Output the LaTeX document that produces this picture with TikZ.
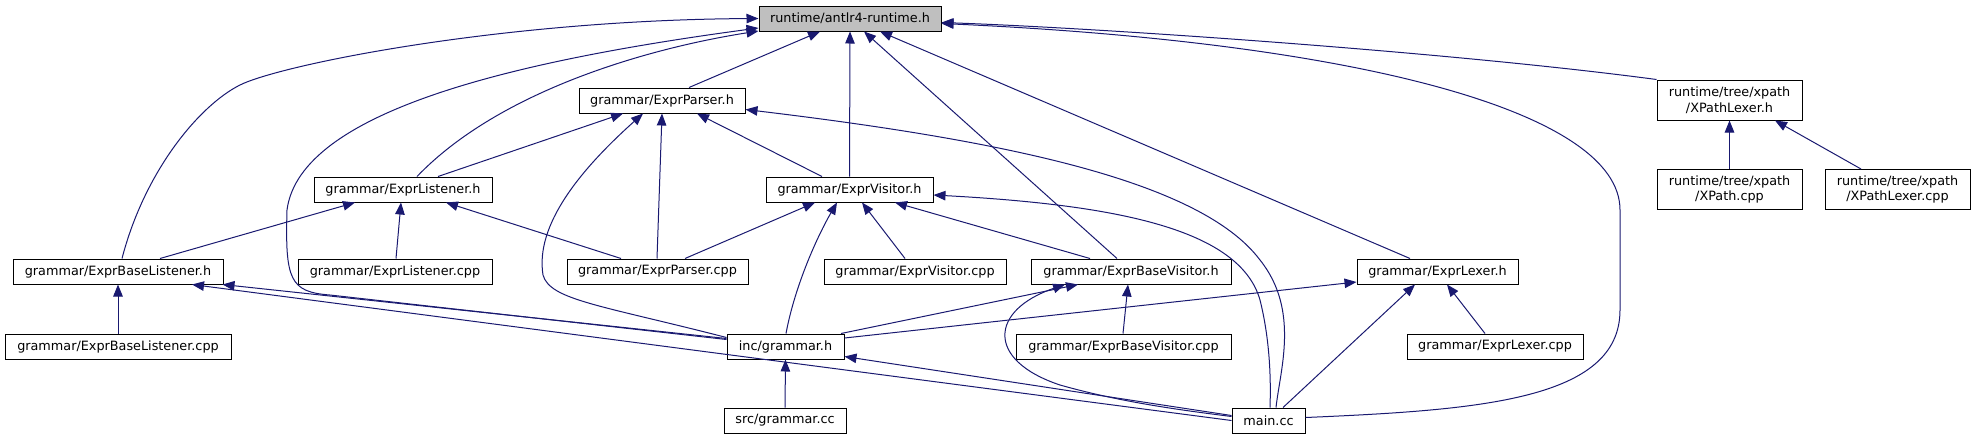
\documentclass[tikz,border=0pt]{standalone}
\usepackage{fontspec}
\setmainfont{DejaVu Sans}
\usepackage{tikz}
\usetikzlibrary{arrows.meta}
\definecolor{EdgeInk}{HTML}{191970}
\definecolor{RootFill}{HTML}{BFBFBF}
\tikzset{
  graph/.style={x=1pt,y=-1pt,font=\fontsize{12.8}{15.5}\selectfont},
  file/.style={draw=black,line width=1pt,fill=white,inner sep=0pt,minimum height=25pt,align=center},
  incl/.style={{Triangle[length=12pt,width=9.5pt]}-,line width=1pt,draw=EdgeInk},
}

\begin{document}
\begin{tikzpicture}[graph]
  \useasboundingbox (0,0) rectangle (1975,440);

  \node[file,fill=RootFill,minimum width=182pt] (Runtime) at (850,18.5) {runtime/antlr4-runtime.h};
  \node[file,minimum width=166pt] (ParserH) at (662,100.5) {grammar/ExprParser.h};
  \node[file,minimum width=145pt,minimum height=40pt] (XLexerH) at (1729.5,100) {runtime/tree/xpath\\/XPathLexer.h};
  \node[file,minimum width=178pt] (ListenerH) at (403,189.5) {grammar/ExprListener.h};
  \node[file,minimum width=167pt] (VisitorH) at (849.5,189.5) {grammar/ExprVisitor.h};
  \node[file,minimum width=145pt,minimum height=40pt] (XPathCPP) at (1729.5,189.5) {runtime/tree/xpath\\/XPath.cpp};
  \node[file,minimum width=145pt,minimum height=40pt] (XLexerCPP) at (1897.5,189.5) {runtime/tree/xpath\\/XPathLexer.cpp};
  \node[file,minimum width=210pt] (BaseListenerH) at (118,271.5) {grammar/ExprBaseListener.h};
  \node[file,minimum width=194pt] (ListenerCPP) at (395,271.5) {grammar/ExprListener.cpp};
  \node[file,minimum width=181pt] (ParserCPP) at (657.5,271.5) {grammar/ExprParser.cpp};
  \node[file,minimum width=182pt] (VisitorCPP) at (915,271.5) {grammar/ExprVisitor.cpp};
  \node[file,minimum width=200pt] (BaseVisitorH) at (1131,271.5) {grammar/ExprBaseVisitor.h};
  \node[file,minimum width=161pt] (LexerH) at (1437.5,271.5) {grammar/ExprLexer.h};
  \node[file,minimum width=226pt] (BaseListenerCPP) at (118,346.5) {grammar/ExprBaseListener.cpp};
  \node[file,minimum width=117pt] (GrammarH) at (785.5,346.5) {inc/grammar.h};
  \node[file,minimum width=215pt] (BaseVisitorCPP) at (1123.5,346.5) {grammar/ExprBaseVisitor.cpp};
  \node[file,minimum width=176pt] (LexerCPP) at (1495,346.5) {grammar/ExprLexer.cpp};
  \node[file,minimum width=122pt] (GrammarCC) at (785,420.5) {src/grammar.cc};
  \node[file,minimum width=73pt] (MainCC) at (1268.5,420.5) {main.cc};

  \draw[incl] (Runtime.south -| 820,0) -- (ParserH.north -| 689,0);
  \draw[incl] (Runtime.south) -- (VisitorH.north);
  \draw[incl] (Runtime.south -| 864,0) -- (BaseVisitorH.north -| 1117,0);
  \draw[incl] (Runtime.south -| 880,0) -- (LexerH.north -| 1410,0);
  \draw[incl] ([yshift=-4pt]Runtime.east) .. controls (1100,28) and (1450,52) .. (XLexerH.north west);
  \draw[incl] ([yshift=-5pt]Runtime.east) .. controls (1350,42) and (1620,110) .. (1620,210)
    -- (1620,310) .. controls (1620,400) and (1480,410) .. ([yshift=3pt]MainCC.east);
  \draw[incl] (Runtime.west) .. controls (500,20) and (280,65) .. (240,85)
    .. controls (200,105) and (145,170) .. (BaseListenerH.north -| 122,0);
  \draw[incl] ([yshift=-12.5pt]Runtime.west) .. controls (650,48) and (500,90) .. (ListenerH.north -| 417,0);
  \draw[incl] ([yshift=-9.5pt]Runtime.west) .. controls (520,60) and (300,110) .. (287,210)
    .. controls (285,280) and (290,292) .. (330,295) -- ([yshift=7pt]GrammarH.west);

  \draw[incl] (ParserH.south -| 623,0) -- (ListenerH.north -| 438,0);
  \draw[incl] (ParserH.south -| 662,0) -- (ParserCPP.north -| 657,0);
  \draw[incl] (ParserH.south -| 697,0) -- (VisitorH.north -| 822,0);
  \draw[incl] (ParserH.south -| 643,0) .. controls (580,170) and (535,225) .. (543,275)
    .. controls (550,300) and (600,305) .. ([yshift=9pt]GrammarH.west);
  \draw[incl] ([yshift=-9pt]ParserH.east) .. controls (1000,140) and (1200,180) .. (1260,260)
    .. controls (1300,310) and (1280,370) .. (MainCC.north -| 1276,0);

  \draw[incl] (ListenerH.south -| 355,0) -- (BaseListenerH.north -| 160,0);
  \draw[incl] (ListenerH.south -| 401,0) -- (ListenerCPP.north -| 396,0);
  \draw[incl] (ListenerH.south -| 446,0) -- (ParserCPP.north -| 621,0);

  \draw[incl] (VisitorH.south -| 815,0) -- (ParserCPP.north -| 685,0);
  \draw[incl] (VisitorH.south -| 837,0) .. controls (818,235) and (795,285) .. (GrammarH.north -| 786,0);
  \draw[incl] (VisitorH.south -| 862,0) -- (VisitorCPP.north -| 905,0);
  \draw[incl] (VisitorH.south -| 895,0) -- (BaseVisitorH.north -| 1090,0);
  \draw[incl] ([yshift=-5.5pt]VisitorH.east) .. controls (1120,205) and (1240,230) .. (1260,300)
    .. controls (1270,340) and (1271,380) .. (MainCC.north -| 1270,0);

  \draw[incl] (BaseVisitorH.south -| 1078,0) -- (GrammarH.north -| 841,0);
  \draw[incl] (BaseVisitorH.south -| 1065,0) .. controls (990,310) and (985,360) .. (1060,385)
    .. controls (1120,402) and (1180,410) .. ([yshift=4pt]MainCC.west);
  \draw[incl] (BaseVisitorH.south -| 1128,0) -- (BaseVisitorCPP.north -| 1123,0);

  \draw[incl] ([yshift=-10.5pt]LexerH.west) -- ([yshift=8.5pt]GrammarH.east);
  \draw[incl] (LexerH.south -| 1415,0) -- (MainCC.north -| 1283,0);
  \draw[incl] (LexerH.south -| 1447,0) -- (LexerCPP.north -| 1485,0);

  \draw[incl] (GrammarH.south) -- (GrammarCC.north);
  \draw[incl] ([yshift=-10pt]GrammarH.east) -- ([yshift=5pt]MainCC.west);

  \draw[incl] (BaseListenerH.south) -- (BaseListenerCPP.north);
  \draw[incl] ([xshift=-1pt]BaseListenerH.south east) -- ([yshift=8pt]GrammarH.west);
  \draw[incl] (BaseListenerH.south -| 192,0) -- (MainCC.west);

  \draw[incl] (XLexerH.south) -- (XPathCPP.north);
  \draw[incl] (XLexerH.south -| 1775,0) -- (XLexerCPP.north -| 1861,0);
\end{tikzpicture}
\end{document}
